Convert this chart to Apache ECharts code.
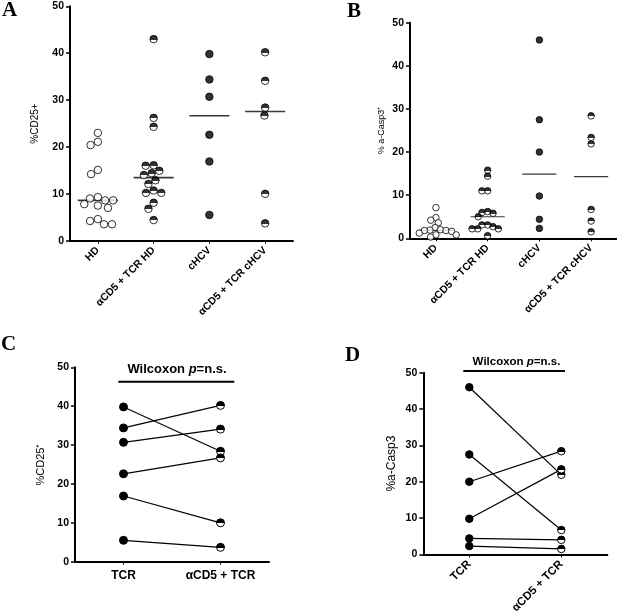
<!DOCTYPE html>
<html><head><meta charset="utf-8">
<script src="https://cdn.jsdelivr.net/npm/echarts@6/dist/echarts.min.js"></script>
<style>html,body{margin:0;padding:0;background:#fff}#c{width:617px;height:616px}</style>
</head><body><div id="c"></div>
<script>
// ---- categories / ticks ----
const groupsAB = ['HD', 'αCD5 + TCR HD', 'cHCV', 'αCD5 + TCR cHCV'];
const pairCats = ['TCR', 'αCD5 + TCR'];
const yMin = 0, yMax = 50, yStep = 10;

// ---- Panel A / C : %CD25+ ----
const cd25HD     = [23.0, 21.1, 20.4, 15.1, 14.2, 9.3, 9.0, 8.6, 8.6, 7.8, 7.5, 7.0, 4.6, 4.2, 3.5, 3.5];
const cd25HDab   = [43.0, 26.2, 24.3, 16.1, 16.0, 14.9, 14.4, 14.0, 12.9, 12.1, 10.7, 10.2, 10.2, 8.1, 6.8, 4.4];
const cd25HCV    = [39.8, 34.4, 30.7, 22.6, 16.9, 5.5];   // TCR, patient order
const cd25HCVab  = [28.4, 40.2, 34.1, 26.7, 10.0, 3.7];   // aCD5 + TCR, same patients

// ---- Panel B / D : % a-Casp3+ ----
const casHD      = [7.1, 4.8, 4.2, 3.6, 2.5, 2.0, 1.9, 1.8, 1.8, 1.6, 1.2, 0.8, 0.8, 0.3];
const casHDab    = [15.8, 14.4, 11.0, 11.0, 6.2, 6.0, 5.8, 5.0, 3.1, 3.1, 2.7, 2.2, 2.2, 2.2, 0.6];
const casHCV     = [46.0, 27.5, 20.0, 9.8, 4.4, 2.3];
const casHCVab   = [21.9, 6.7, 28.4, 23.4, 4.0, 1.5];

function median(a){ const s=[...a].sort((x,y)=>x-y); const n=s.length; return n%2? s[(n-1)/2] : (s[n/2-1]+s[n/2])/2; }

const FONT = 'Liberation Sans';
const openStyle = {color:'#fff', borderColor:'#000', borderWidth:1};
const fullStyle = {color:'#000', borderColor:'#000', borderWidth:1};
const halfFill = {type:'linear', x:0, y:0, x2:0, y2:1, global:false,
  colorStops:[{offset:0,color:'#000'},{offset:0.55,color:'#000'},{offset:0.55,color:'#fff'},{offset:1,color:'#fff'}]};
const halfStyle = {color:halfFill, borderColor:'#000', borderWidth:1};

const chart = echarts.init(document.getElementById('c'), null, {renderer:'canvas'});

const grids = [
  {left:70, top:6.3, width:223, height:234.4},
  {left:410, top:22.7, width:207, height:215.6},
  {left:75, top:367.3, width:194, height:194.4},
  {left:423.3, top:372.7, width:184, height:184}
];

function yAx(gi, name, gap, nameSize){
  return {type:'value', gridIndex:gi, min:yMin, max:yMax, interval:yStep,
    name:name, nameLocation:'middle', nameGap:gap,
    nameTextStyle:{fontSize:nameSize, color:'#000', fontFamily:FONT},
    axisLine:{show:true, lineStyle:{color:'#000', width:2}},
    axisTick:{show:true, length:4, lineStyle:{color:'#000', width:1.5}},
    axisLabel:{color:'#000', fontSize:10.5, fontWeight:'bold', fontFamily:FONT, margin:6},
    splitLine:{show:false}};
}
function xAx(gi, cats, rotate, size, jitter, margin){
  const o = {type:'category', gridIndex:gi, data:cats, boundaryGap:true,
    axisLine:{show:true, onZero:true, lineStyle:{color:'#000', width:2}},
    axisTick:{show:true, alignWithLabel:true, length:3, lineStyle:{color:'#000', width:1}},
    axisLabel:{interval:0, rotate:rotate, color:'#000', fontSize:size, fontWeight:'bold', fontFamily:FONT, margin:8},
    splitLine:{show:false}};
  if (jitter){ o.jitter = jitter; o.jitterOverlap = false; o.jitterMargin = margin; }
  return o;
}

function scatter(gi, cat, vals, style, size){
  return {type:'scatter', xAxisIndex:gi, yAxisIndex:gi, symbol:'circle', symbolSize:size,
    itemStyle:style, data: vals.map(v=>[cat, v]), z:3, silent:true};
}
function medianSeries(gi, groups, frac, color, width){
  return {type:'custom', xAxisIndex:gi, yAxisIndex:gi, z:2, silent:true,
    data: groups.map((g,i)=>[i, median(g)]),
    renderItem:(params, api)=>{
      const p = api.coord([api.value(0), api.value(1)]);
      const w = api.size([1,0])[0]*frac/2;
      return {type:'line', shape:{x1:p[0]-w, y1:p[1], x2:p[0]+w, y2:p[1]}, style:{stroke:color, lineWidth:width}};
    }};
}
function pairSeries(gi, a, b, size){
  return a.map((v,i)=>({type:'line', xAxisIndex:gi, yAxisIndex:gi, symbol:'circle', symbolSize:size,
    lineStyle:{color:'#000', width:1.2}, silent:true, z:3,
    data:[{value:[pairCats[0], v], itemStyle:fullStyle}, {value:[pairCats[1], b[i]], itemStyle:halfStyle}]}));
}

const series = [
  medianSeries(0, [cd25HD, cd25HDab, cd25HCV, cd25HCVab], 0.72, '#3a3a3a', 1.6),
  scatter(0, groupsAB[0], cd25HD, openStyle, 7.5),
  scatter(0, groupsAB[1], cd25HDab, halfStyle, 7.5),
  scatter(0, groupsAB[2], cd25HCV, fullStyle, 7.5),
  scatter(0, groupsAB[3], cd25HCVab, halfStyle, 7.5),
  medianSeries(1, [casHD, casHDab, casHCV, casHCVab], 0.66, '#3a3a3a', 1.2),
  scatter(1, groupsAB[0], casHD, openStyle, 6.5),
  scatter(1, groupsAB[1], casHDab, halfStyle, 6.5),
  scatter(1, groupsAB[2], casHCV, fullStyle, 6.5),
  scatter(1, groupsAB[3], casHCVab, halfStyle, 6.5),
  ...pairSeries(2, cd25HCV, cd25HCVab, 8),
  ...pairSeries(3, casHCV, casHCVab, 7.5)
];

function letter(t, x, y){
  return {type:'text', left:x, top:y, style:{text:t, font:'bold 21px "Liberation Serif"', fill:'#000'}};
}
function wilcoxon(cx, cy, size, x1, x2, ly){
  return [
    {type:'text', x:cx, y:cy, style:{text:'{a|Wilcoxon }{i|p}{a|=n.s.}', align:'center', verticalAlign:'middle',
      rich:{a:{fontSize:size, fontWeight:'bold', fontFamily:FONT, fill:'#000', color:'#000'},
            i:{fontSize:size, fontWeight:'bold', fontStyle:'italic', fontFamily:FONT, fill:'#000', color:'#000'}}}},
    {type:'line', shape:{x1:x1, y1:ly, x2:x2, y2:ly}, style:{stroke:'#000', lineWidth:2}}
  ];
}

chart.setOption({
  animation:false,
  backgroundColor:'#fff',
  textStyle:{fontFamily:FONT},
  grid:grids,
  xAxis:[xAx(0, groupsAB, 45, 10.5, 50, 0.5), xAx(1, groupsAB, 45, 10.5, 48, -0.8), xAx(2, pairCats, 0, 12), xAx(3, pairCats, 45, 11.5)],
  yAxis:[yAx(0,'%CD25+',30,10), yAx(1,'% a-Casp3⁺',24,9), yAx(2,'%CD25⁺',29,11), yAx(3,'%a-Casp3',26,12)],
  series:series,
  graphic:[
    letter('A', 2, 0), letter('B', 347, 1), letter('C', 1, 334), letter('D', 345, 345),
    ...wilcoxon(177, 369, 13, 118.3, 234.3, 381.7),
    ...wilcoxon(516.5, 361.7, 11.5, 463.3, 565, 371)
  ]
});
</script></body></html>
